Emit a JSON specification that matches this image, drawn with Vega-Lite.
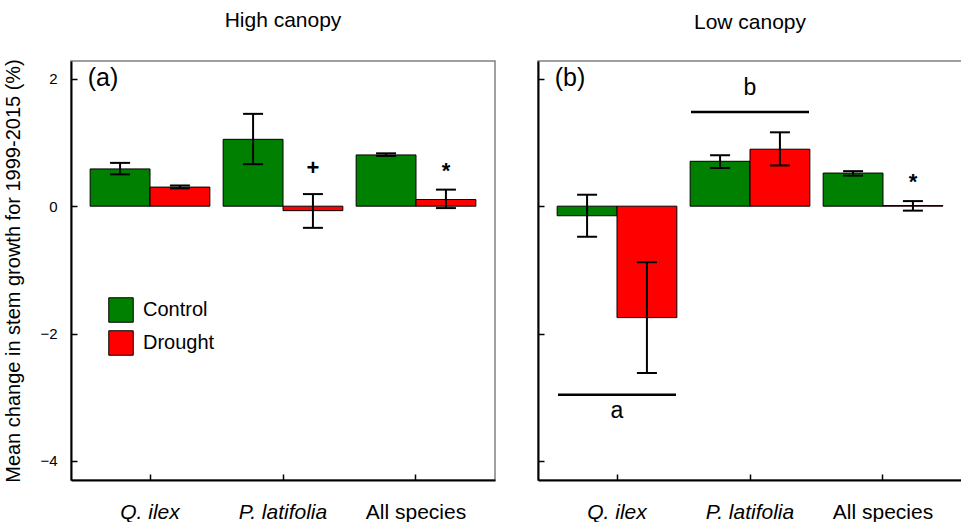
{
  "$schema": "https://vega.github.io/schema/vega-lite/v6.json",
  "padding": {"left": 3, "top": 8, "right": 0, "bottom": 0},
  "spacing": 40,
  "datasets": {
    "bars": [
      {"panel": "High", "species": "Q. ilex", "group": "Control", "value": 0.585, "lo": 0.50, "hi": 0.68},
      {"panel": "High", "species": "Q. ilex", "group": "Drought", "value": 0.30, "lo": 0.28, "hi": 0.325},
      {"panel": "High", "species": "P. latifolia", "group": "Control", "value": 1.05, "lo": 0.66, "hi": 1.45},
      {"panel": "High", "species": "P. latifolia", "group": "Drought", "value": -0.07, "lo": -0.34, "hi": 0.19},
      {"panel": "High", "species": "All species", "group": "Control", "value": 0.805, "lo": 0.79, "hi": 0.83},
      {"panel": "High", "species": "All species", "group": "Drought", "value": 0.105, "lo": -0.03, "hi": 0.26},
      {"panel": "Low", "species": "Q. ilex", "group": "Control", "value": -0.15, "lo": -0.48, "hi": 0.18},
      {"panel": "Low", "species": "Q. ilex", "group": "Drought", "value": -1.75, "lo": -2.62, "hi": -0.88},
      {"panel": "Low", "species": "P. latifolia", "group": "Control", "value": 0.705, "lo": 0.60, "hi": 0.80},
      {"panel": "Low", "species": "P. latifolia", "group": "Drought", "value": 0.895, "lo": 0.64, "hi": 1.16},
      {"panel": "Low", "species": "All species", "group": "Control", "value": 0.52, "lo": 0.48, "hi": 0.55},
      {"panel": "Low", "species": "All species", "group": "Drought", "value": 0.01, "lo": -0.07, "hi": 0.08}
    ],
    "notes": [
      {"panel": "High", "kind": "panel", "species": "Q. ilex", "group": "Control", "y": 1.885, "label": "(a)"},
      {"panel": "Low", "kind": "panel", "species": "Q. ilex", "group": "Control", "y": 1.885, "label": "(b)"},
      {"panel": "High", "kind": "sign", "species": "P. latifolia", "group": "Drought", "y": 0.49, "label": "+"},
      {"panel": "High", "kind": "sign", "species": "All species", "group": "Drought", "y": 0.45, "label": "*"},
      {"panel": "Low", "kind": "sign", "species": "All species", "group": "Drought", "y": 0.27, "label": "*"},
      {"panel": "Low", "kind": "letter", "species": "P. latifolia", "group": "Control", "y": 1.74, "label": "b"},
      {"panel": "Low", "kind": "letter", "species": "Q. ilex", "group": "Control", "y": -3.33, "label": "a"}
    ],
    "lines": [
      {"panel": "Low", "species": "P. latifolia", "y": 1.48},
      {"panel": "Low", "species": "Q. ilex", "y": -2.96}
    ]
  },
  "hconcat": [
    {
      "width": 424,
      "height": 419,
      "title": {"text": "High canopy", "offset": 28},
      "layer": [
        {
          "data": {"name": "bars"},
          "transform": [{"filter": "datum.panel === 'High'"}],
          "mark": {"type": "bar", "stroke": "black", "strokeWidth": 1},
          "encoding": {
            "x": {"field": "species", "type": "nominal", "sort": ["Q. ilex", "P. latifolia", "All species"],
                  "scale": {"paddingInner": 0.1, "paddingOuter": 0.144},
                  "axis": {"title": null, "labelAngle": 0, "labelFontSize": 21, "labelPadding": 27,
                           "labelFontStyle": {"condition": {"test": "datum.value === 'All species'", "value": "normal"}, "value": "italic"}}},
            "xOffset": {"field": "group", "type": "nominal", "sort": ["Control", "Drought"], "scale": {"paddingInner": 0, "paddingOuter": 0}},
            "y": {"field": "value", "type": "quantitative", "scale": {"domain": [-4.3, 2.28], "nice": false, "zero": false},
                  "axis": {"title": "Mean change in stem growth for 1999-2015 (%)", "titleFontSize": 20, "titleFontWeight": "normal",
                           "values": [-4, -2, 0, 2], "format": "d", "labelFontSize": 15, "labelPadding": 20, "titlePadding": 16}},
            "y2": {"datum": 0},
            "color": {"field": "group", "type": "nominal", "scale": {"domain": ["Control", "Drought"], "range": ["#008000", "#ff0000"]},
                      "legend": {"title": null, "orient": "none", "legendX": 37, "legendY": 236, "symbolType": "square", "symbolSize": 600,
                                 "symbolStrokeColor": "black", "symbolStrokeWidth": 1, "labelFontSize": 20, "labelOffset": 9, "rowPadding": 3, "labelColor": "black"}}
          }
        },
        {
          "data": {"name": "bars"},
          "transform": [{"filter": "datum.panel === 'High'"}],
          "mark": {"type": "rule", "strokeWidth": 2, "color": "black"},
          "encoding": {
            "x": {"field": "species", "type": "nominal", "sort": ["Q. ilex", "P. latifolia", "All species"]},
            "xOffset": {"field": "group", "type": "nominal", "sort": ["Control", "Drought"]},
            "y": {"field": "lo", "type": "quantitative"},
            "y2": {"field": "hi"}
          }
        },
        {
          "data": {"name": "bars"},
          "transform": [{"filter": "datum.panel === 'High'"}],
          "mark": {"type": "tick", "thickness": 2, "size": 20, "color": "black", "opacity": 1},
          "encoding": {
            "x": {"field": "species", "type": "nominal", "sort": ["Q. ilex", "P. latifolia", "All species"]},
            "xOffset": {"field": "group", "type": "nominal", "sort": ["Control", "Drought"]},
            "y": {"field": "lo", "type": "quantitative"}
          }
        },
        {
          "data": {"name": "bars"},
          "transform": [{"filter": "datum.panel === 'High'"}],
          "mark": {"type": "tick", "thickness": 2, "size": 20, "color": "black", "opacity": 1},
          "encoding": {
            "x": {"field": "species", "type": "nominal", "sort": ["Q. ilex", "P. latifolia", "All species"]},
            "xOffset": {"field": "group", "type": "nominal", "sort": ["Control", "Drought"]},
            "y": {"field": "hi", "type": "quantitative"}
          }
        },
        {
          "data": {"name": "notes"},
          "transform": [{"filter": "datum.panel === 'High' && datum.kind === 'panel'"}],
          "mark": {"type": "text", "fontSize": 25, "dx": -47, "align": "center", "baseline": "alphabetic", "color": "black"},
          "encoding": {
            "x": {"field": "species", "type": "nominal", "sort": ["Q. ilex", "P. latifolia", "All species"]},
            "y": {"field": "y", "type": "quantitative"},
            "text": {"field": "label"}
          }
        },
        {
          "data": {"name": "notes"},
          "transform": [{"filter": "datum.panel === 'High' && datum.kind === 'sign'"}],
          "mark": {"type": "text", "fontSize": 22, "fontWeight": "bold", "align": "center", "baseline": "alphabetic", "color": "black"},
          "encoding": {
            "x": {"field": "species", "type": "nominal", "sort": ["Q. ilex", "P. latifolia", "All species"]},
            "xOffset": {"field": "group", "type": "nominal", "sort": ["Control", "Drought"]},
            "y": {"field": "y", "type": "quantitative"},
            "text": {"field": "label"}
          }
        }
      ]
    },
    {
      "width": 424,
      "height": 419,
      "title": {"text": "Low canopy", "offset": 28},
      "layer": [
        {
          "data": {"name": "bars"},
          "transform": [{"filter": "datum.panel === 'Low'"}],
          "mark": {"type": "bar", "stroke": "black", "strokeWidth": 1},
          "encoding": {
            "x": {"field": "species", "type": "nominal", "sort": ["Q. ilex", "P. latifolia", "All species"],
                  "scale": {"paddingInner": 0.1, "paddingOuter": 0.144},
                  "axis": {"title": null, "labelAngle": 0, "labelFontSize": 21, "labelPadding": 27,
                           "labelFontStyle": {"condition": {"test": "datum.value === 'All species'", "value": "normal"}, "value": "italic"}}},
            "xOffset": {"field": "group", "type": "nominal", "sort": ["Control", "Drought"], "scale": {"paddingInner": 0, "paddingOuter": 0}},
            "y": {"field": "value", "type": "quantitative", "scale": {"domain": [-4.3, 2.28], "nice": false, "zero": false},
                  "axis": {"title": null, "labels": false, "values": [-4, -2, 0, 2]}},
            "y2": {"datum": 0},
            "color": {"field": "group", "type": "nominal", "scale": {"domain": ["Control", "Drought"], "range": ["#008000", "#ff0000"]}, "legend": null}
          }
        },
        {
          "data": {"name": "bars"},
          "transform": [{"filter": "datum.panel === 'Low'"}],
          "mark": {"type": "rule", "strokeWidth": 2, "color": "black"},
          "encoding": {
            "x": {"field": "species", "type": "nominal", "sort": ["Q. ilex", "P. latifolia", "All species"]},
            "xOffset": {"field": "group", "type": "nominal", "sort": ["Control", "Drought"]},
            "y": {"field": "lo", "type": "quantitative"},
            "y2": {"field": "hi"}
          }
        },
        {
          "data": {"name": "bars"},
          "transform": [{"filter": "datum.panel === 'Low'"}],
          "mark": {"type": "tick", "thickness": 2, "size": 20, "color": "black", "opacity": 1},
          "encoding": {
            "x": {"field": "species", "type": "nominal", "sort": ["Q. ilex", "P. latifolia", "All species"]},
            "xOffset": {"field": "group", "type": "nominal", "sort": ["Control", "Drought"]},
            "y": {"field": "lo", "type": "quantitative"}
          }
        },
        {
          "data": {"name": "bars"},
          "transform": [{"filter": "datum.panel === 'Low'"}],
          "mark": {"type": "tick", "thickness": 2, "size": 20, "color": "black", "opacity": 1},
          "encoding": {
            "x": {"field": "species", "type": "nominal", "sort": ["Q. ilex", "P. latifolia", "All species"]},
            "xOffset": {"field": "group", "type": "nominal", "sort": ["Control", "Drought"]},
            "y": {"field": "hi", "type": "quantitative"}
          }
        },
        {
          "data": {"name": "lines"},
          "transform": [{"filter": "datum.panel === 'Low'"}],
          "mark": {"type": "tick", "thickness": 2.5, "size": 118, "color": "black", "opacity": 1},
          "encoding": {
            "x": {"field": "species", "type": "nominal", "sort": ["Q. ilex", "P. latifolia", "All species"]},
            "y": {"field": "y", "type": "quantitative"}
          }
        },
        {
          "data": {"name": "notes"},
          "transform": [{"filter": "datum.panel === 'Low' && datum.kind === 'panel'"}],
          "mark": {"type": "text", "fontSize": 25, "dx": -47, "align": "center", "baseline": "alphabetic", "color": "black"},
          "encoding": {
            "x": {"field": "species", "type": "nominal", "sort": ["Q. ilex", "P. latifolia", "All species"]},
            "y": {"field": "y", "type": "quantitative"},
            "text": {"field": "label"}
          }
        },
        {
          "data": {"name": "notes"},
          "transform": [{"filter": "datum.panel === 'Low' && datum.kind === 'letter'"}],
          "mark": {"type": "text", "fontSize": 23, "align": "center", "baseline": "alphabetic", "color": "black"},
          "encoding": {
            "x": {"field": "species", "type": "nominal", "sort": ["Q. ilex", "P. latifolia", "All species"]},
            "y": {"field": "y", "type": "quantitative"},
            "text": {"field": "label"}
          }
        },
        {
          "data": {"name": "notes"},
          "transform": [{"filter": "datum.panel === 'Low' && datum.kind === 'sign'"}],
          "mark": {"type": "text", "fontSize": 22, "fontWeight": "bold", "align": "center", "baseline": "alphabetic", "color": "black"},
          "encoding": {
            "x": {"field": "species", "type": "nominal", "sort": ["Q. ilex", "P. latifolia", "All species"]},
            "xOffset": {"field": "group", "type": "nominal", "sort": ["Control", "Drought"]},
            "y": {"field": "y", "type": "quantitative"},
            "text": {"field": "label"}
          }
        }
      ]
    }
  ],
  "resolve": {"legend": {"color": "independent"}},
  "config": {
    "font": "Liberation Sans",
    "view": {"stroke": "#808080", "strokeWidth": 1.5},
    "axis": {"grid": false, "domainColor": "black", "domainWidth": 2, "tickColor": "black", "tickWidth": 1.5, "tickSize": -6,
             "labelColor": "black", "titleColor": "black"},
    "title": {"fontSize": 21, "fontWeight": "normal", "color": "black"}
  }
}
